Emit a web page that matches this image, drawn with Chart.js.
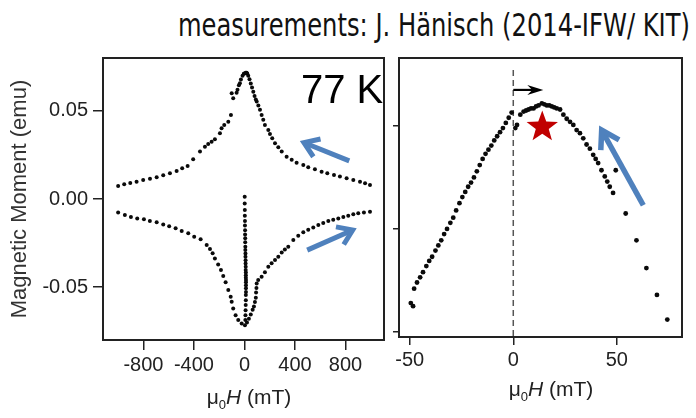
<!DOCTYPE html>
<html>
<head>
<meta charset="utf-8">
<script src="https://cdn.jsdelivr.net/npm/chart.js@4.4.1/dist/chart.umd.min.js"></script>
<style>
  html, body { margin: 0; padding: 0; background: #fff; }
  #wrap { position: relative; width: 696px; height: 418px; overflow: hidden; font-family: "Liberation Sans", Arial, sans-serif; }
  canvas { position: absolute; top: 0; }
  #leftCanvas { left: 0; }
  #rightCanvas { left: 390px; }
  #title { position: absolute; left: 178px; top: 9px; font-family: "DejaVu Sans", sans-serif; font-size: 32px; line-height: 1; white-space: nowrap; transform-origin: 0 0; color: #111; }
  .xlab { position: absolute; font-size: 21px; color: #222; white-space: nowrap; transform: translateX(-50%); }
  .xlab sub { font-size: 13px; }
</style>
</head>
<body>
<div id="wrap">
  <div id="title">measurements: J. Hänisch (2014-IFW/ KIT)</div>
  <canvas id="leftCanvas" width="390" height="418"></canvas>
  <canvas id="rightCanvas" width="306" height="418"></canvas>
  <div class="xlab" style="left:249px; top:385px;">μ<sub>0</sub><i>H</i> (mT)</div>
  <div class="xlab" style="left:551px; top:377px;">μ<sub>0</sub><i>H</i> (mT)</div>
</div>
<script>
// full loop, field sweeping down (upper branch)
const upperH = [994, 955, 915, 862, 809, 756, 709, 656, 611, 558, 505, 466, 413, 374, 334, 295, 268, 242, 220, 202, 189, 162, 149, 136, 123, 110, 97,
  90, 80, 70, 60, 50, 40, 30, 22, 17, 10, 0, -5, -15, -28, -36, -44, -55, -62, -89, -101,
  -107, -128, -160, -181, -194, -234, -260, -287, -313, -352, -406, -450, -493, -537, -590, -643, -695, -748, -802, -854, -904, -952, -1000];
const upperM = [0.0080, 0.0090, 0.0098, 0.0108, 0.0118, 0.0127, 0.0136, 0.0146, 0.0155, 0.0169, 0.0180, 0.0193, 0.0206, 0.0222, 0.0240, 0.0269, 0.0294, 0.0316, 0.0345, 0.0369, 0.0392, 0.0420, 0.0449, 0.0477, 0.0506, 0.0530, 0.0553,
  0.0565, 0.0585, 0.0608, 0.0632, 0.0656, 0.0680, 0.0700, 0.0712, 0.0716, 0.0716, 0.0712, 0.0710, 0.0700, 0.0678, 0.0657, 0.0645, 0.0620, 0.0603, 0.0572, 0.0600,
  0.0477, 0.0439, 0.0420, 0.0402, 0.0373, 0.0339, 0.0325, 0.0312, 0.0297, 0.0269, 0.0225, 0.0187, 0.0174, 0.0159, 0.0146, 0.0135, 0.0123, 0.0115, 0.0108, 0.0098, 0.0091, 0.0083, 0.0074];

// field sweeping up (lower branch)
const lowerH = [-1000, -947, -899, -849, -796, -749, -695, -643, -596, -545, -497, -445, -398, -347, -299, -273, -252, -234, -208, -186, -168, -149, -128, -109,
  -101, -89, -70, -49, -22, 4, 20, 35, 50, 65, 75, 83, 90, 92, 95, 97,
  109, 136, 162, 189, 215, 242, 268, 295, 320, 347, 387, 426, 466, 505, 545, 585, 624, 664, 703, 743, 783, 822, 862, 901, 946, 994];
const lowerM = [-0.0076, -0.0091, -0.0102, -0.0110, -0.0115, -0.0125, -0.0132, -0.0144, -0.0155, -0.0166, -0.0182, -0.0195, -0.0214, -0.0229, -0.0261, -0.0284, -0.0308, -0.0337, -0.0371, -0.0403, -0.0437, -0.0473, -0.0517, -0.0555,
  -0.0583, -0.0621, -0.0659, -0.0687, -0.0706, -0.0716, -0.0700, -0.0680, -0.0655, -0.0628, -0.0610, -0.0585, -0.0560, -0.0530, -0.0505, -0.0479,
  -0.0460, -0.0441, -0.0416, -0.0385, -0.0365, -0.0346, -0.0328, -0.0303, -0.0287, -0.0271, -0.0233, -0.0208, -0.0189, -0.0174, -0.0161, -0.0148, -0.0136, -0.0125, -0.0118, -0.0110, -0.0102, -0.0095, -0.0087, -0.0081, -0.0076, -0.0072];

// initial branch near zero field
const initialH = [2, 2, 3, 3, 4, 4, 5, 5, 6, 6, 7, 7, 8, 8, 9, 9, 10, 10, 11, 11, 11, 12, 12, 12, 12, 12, 11, 11, 10, 9, 8, 7];
const initialM = [0.0013, -0.0025, -0.0062, -0.0095, -0.0125, -0.0151, -0.0178, -0.0201, -0.0223, -0.0246, -0.0271, -0.0290, -0.0309, -0.0328, -0.0347, -0.0366,
  -0.0384, -0.0403, -0.0417, -0.0432, -0.0447, -0.0460, -0.0473, -0.0489, -0.0507, -0.0527, -0.0545, -0.0574, -0.0602, -0.0631, -0.0659, -0.0687];

// zoom around the maximum (right panel)
const zoomH = [-49.5, -48.4, -47.9, -46.5, -45.0, -43.6, -42.0, -40.6, -39.2, -37.6, -36.2, -34.8, -33.4, -32.0, -30.4, -29.0, -27.6, -26.0, -24.6, -23.2,
  -21.8, -20.4, -19.0, -17.6, -16.2, -14.8, -13.4, -12.0, -10.6, -9.2, -7.8, -6.4, -5.0, -3.6, -2.2, -0.8,
  1.0, 1.8, 3.4, 5.0, 6.2, 7.4, 8.6, 9.8, 11.0, 12.2, 13.8, 15.0, 16.2, 17.4, 18.6, 19.8, 21.0, 22.6, 24.2, 25.8, 27.4, 29.0, 30.6, 32.2, 33.8, 35.4,
  37.0, 38.6, 39.8, 41.0, 42.6, 44.2, 45.4, 46.6, 48.2, 49.5, 54.3, 59.5, 64.3, 69.4, 74.4];
const zoomM = [0.0528, 0.0525, 0.0542, 0.0548, 0.0553, 0.0558, 0.0564, 0.0569, 0.0573, 0.0579, 0.0584, 0.0589, 0.0595, 0.0600, 0.0606, 0.0611, 0.0618, 0.0625, 0.0631, 0.0636,
  0.0641, 0.0645, 0.0650, 0.0656, 0.0662, 0.0668, 0.0673, 0.0677, 0.0681, 0.0686, 0.0690, 0.0694, 0.0698, 0.0703, 0.0708, 0.0713,
  0.0698, 0.0701, 0.0711, 0.0714, 0.0715, 0.0716, 0.0717, 0.0717, 0.0719, 0.0720, 0.0722, 0.0721, 0.0720, 0.0720, 0.0719, 0.0718, 0.0717, 0.0716, 0.0711, 0.0707, 0.0704, 0.0701, 0.0696, 0.0693, 0.0688, 0.0682,
  0.0678, 0.0672, 0.0668, 0.0664, 0.0657, 0.0651, 0.0646, 0.0641, 0.0635, 0.0657, 0.0615, 0.0589, 0.0562, 0.0536, 0.0512];

const leftXTicks = [-800, -400, 0, 400, 800];
const leftYTicks = [-0.05, 0, 0.05];
const rightXTicks = [-50, 0, 50];
const rightYTicks = [0.05, 0.06, 0.07];

const toPoints = (xs, ys) => xs.map((x, i) => ({ x: x, y: ys[i] }));

const TXT = "#222";
const FONT = "'Liberation Sans', Arial, sans-serif";
const BLUE = "#4f81bd";

function drawArrow(ctx, x1, y1, x2, y2, color, width, head, spread) {
  const ang = Math.atan2(y2 - y1, x2 - x1);
  ctx.save();
  ctx.strokeStyle = color;
  ctx.lineWidth = width;
  ctx.lineJoin = "miter";
  ctx.beginPath();
  ctx.moveTo(x1, y1);
  ctx.lineTo(x2 - Math.cos(ang) * width * 0.6, y2 - Math.sin(ang) * width * 0.6);
  ctx.stroke();
  ctx.beginPath();
  ctx.moveTo(x2 - head * Math.cos(ang - spread), y2 - head * Math.sin(ang - spread));
  ctx.lineTo(x2, y2);
  ctx.lineTo(x2 - head * Math.cos(ang + spread), y2 - head * Math.sin(ang + spread));
  ctx.stroke();
  ctx.restore();
}

function drawStar(ctx, cx, cy, rOut, rIn, color) {
  ctx.save();
  ctx.beginPath();
  for (let i = 0; i < 10; i++) {
    const r = i % 2 ? rIn : rOut;
    const a = -Math.PI / 2 + i * Math.PI / 5;
    const px = cx + r * Math.cos(a), py = cy + r * Math.sin(a);
    if (i === 0) ctx.moveTo(px, py); else ctx.lineTo(px, py);
  }
  ctx.closePath();
  ctx.fillStyle = color;
  ctx.fill();
  ctx.restore();
}

// box around the plot area
const framePlugin = {
  id: "frame",
  afterDraw(chart) {
    const { ctx, chartArea: a } = chart;
    ctx.save();
    ctx.strokeStyle = "#222";
    ctx.lineWidth = 2;
    ctx.strokeRect(a.left, a.top, a.right - a.left, a.bottom - a.top);
    ctx.restore();
  }
};

const leftNotes = {
  id: "leftNotes",
  afterDatasetsDraw(chart) {
    const { ctx, scales: { x, y } } = chart;
    drawArrow(ctx, x.getPixelForValue(830), y.getPixelForValue(0.0216), x.getPixelForValue(471), y.getPixelForValue(0.0320), BLUE, 5, 17, 0.6);
    drawArrow(ctx, x.getPixelForValue(497), y.getPixelForValue(-0.0290), x.getPixelForValue(857), y.getPixelForValue(-0.0176), BLUE, 5, 17, 0.6);
    ctx.save();
    ctx.fillStyle = "#000";
    ctx.font = "40px " + FONT;
    ctx.textBaseline = "alphabetic";
    ctx.fillText("77 K", x.getPixelForValue(447), y.getPixelForValue(0.0545));
    ctx.restore();
  }
};

const rightNotes = {
  id: "rightNotes",
  beforeDatasetsDraw(chart) {
    const { ctx, chartArea: a, scales: { x } } = chart;
    const x0 = x.getPixelForValue(0);
    ctx.save();
    ctx.strokeStyle = "#555";
    ctx.lineWidth = 1.5;
    ctx.setLineDash([6, 4]);
    ctx.beginPath();
    ctx.moveTo(x0, a.top + 12);
    ctx.lineTo(x0, a.bottom);
    ctx.stroke();
    ctx.restore();
  },
  afterDatasetsDraw(chart) {
    const { ctx, scales: { x, y } } = chart;
    // black arrow from zero field towards the shifted maximum
    const ay = y.getPixelForValue(0.0735);
    const ax0 = x.getPixelForValue(0), ax1 = x.getPixelForValue(14.5);
    ctx.save();
    ctx.strokeStyle = "#000";
    ctx.fillStyle = "#000";
    ctx.lineWidth = 2.2;
    ctx.beginPath();
    ctx.moveTo(ax0, ay);
    ctx.lineTo(ax1 - 6, ay);
    ctx.stroke();
    ctx.beginPath();
    ctx.moveTo(ax1, ay);
    ctx.lineTo(ax1 - 16, ay - 5);
    ctx.lineTo(ax1 - 11, ay);
    ctx.lineTo(ax1 - 16, ay + 5);
    ctx.closePath();
    ctx.fill();
    ctx.restore();
    drawStar(ctx, x.getPixelForValue(14), y.getPixelForValue(0.0699), 16.5, 6.8, "#c00000");
    drawArrow(ctx, x.getPixelForValue(62.8), y.getPixelForValue(0.0623), x.getPixelForValue(42.7), y.getPixelForValue(0.0696), BLUE, 5.5, 20, 0.55);
  }
};

const dotSet = (data, r) => ({
  data: data,
  pointRadius: r,
  pointHoverRadius: r,
  pointBackgroundColor: "#0a0a0a",
  pointBorderWidth: 0,
  showLine: false
});

new Chart(document.getElementById("leftCanvas"), {
  type: "scatter",
  data: {
    datasets: [
      dotSet(toPoints(upperH, upperM), 2.0),
      dotSet(toPoints(lowerH, lowerM), 2.0),
      dotSet(toPoints(initialH, initialM), 2.0)
    ]
  },
  options: {
    responsive: false,
    animation: false,
    layout: { padding: { top: 58, right: 6, left: 0, bottom: 0 } },
    plugins: { legend: { display: false }, tooltip: { enabled: false } },
    scales: {
      x: {
        type: "linear",
        min: -1120,
        max: 1105,
        afterBuildTicks: (s) => { s.ticks = leftXTicks.map((v) => ({ value: v })); },
        afterFit: (s) => { s.height = 78; },
        border: { display: false },
        grid: { drawOnChartArea: false, drawTicks: true, tickLength: 10, color: "#222", lineWidth: 1.5 },
        ticks: { color: TXT, font: { family: FONT, size: 20 }, padding: 3, maxRotation: 0 }
      },
      y: {
        type: "linear",
        min: -0.08,
        max: 0.08,
        afterBuildTicks: (s) => { s.ticks = leftYTicks.map((v) => ({ value: v })); },
        afterFit: (s) => { s.width = 103; },
        border: { display: false },
        grid: { drawOnChartArea: false, drawTicks: true, tickLength: 10, color: "#222", lineWidth: 1.5 },
        ticks: { color: TXT, font: { family: FONT, size: 20 }, padding: 5, callback: (v) => v.toFixed(2) },
        title: { display: true, text: "Magnetic Moment (emu)", color: "#333", font: { family: FONT, size: 22 }, padding: { top: 7, bottom: 0 } }
      }
    }
  },
  plugins: [framePlugin, leftNotes]
});

new Chart(document.getElementById("rightCanvas"), {
  type: "scatter",
  data: { datasets: [dotSet(toPoints(zoomH, zoomM), 2.4)] },
  options: {
    responsive: false,
    animation: false,
    layout: { padding: { top: 58, right: 14, left: 0, bottom: 0 } },
    plugins: { legend: { display: false }, tooltip: { enabled: false } },
    scales: {
      x: {
        type: "linear",
        min: -55.2,
        max: 81.5,
        afterBuildTicks: (s) => { s.ticks = rightXTicks.map((v) => ({ value: v })); },
        afterFit: (s) => { s.height = 81; },
        border: { display: false },
        grid: { drawOnChartArea: false, drawTicks: true, tickLength: 8, color: "#222", lineWidth: 1.5 },
        ticks: { color: TXT, font: { family: FONT, size: 20 }, padding: 3, maxRotation: 0 }
      },
      y: {
        type: "linear",
        min: 0.04951,
        max: 0.0766,
        afterBuildTicks: (s) => { s.ticks = rightYTicks.map((v) => ({ value: v })); },
        afterFit: (s) => { s.width = 9; },
        border: { display: false },
        grid: { drawOnChartArea: false, drawTicks: true, tickLength: 6, color: "#222", lineWidth: 1.5 },
        ticks: { display: false }
      }
    }
  },
  plugins: [framePlugin, rightNotes]
});

// squeeze the heading to the width it has in the picture
const titleEl = document.getElementById("title");
const tw = titleEl.getBoundingClientRect().width;
titleEl.style.transform = "scaleX(" + (512 / tw) + ")";
</script>
</body>
</html>
